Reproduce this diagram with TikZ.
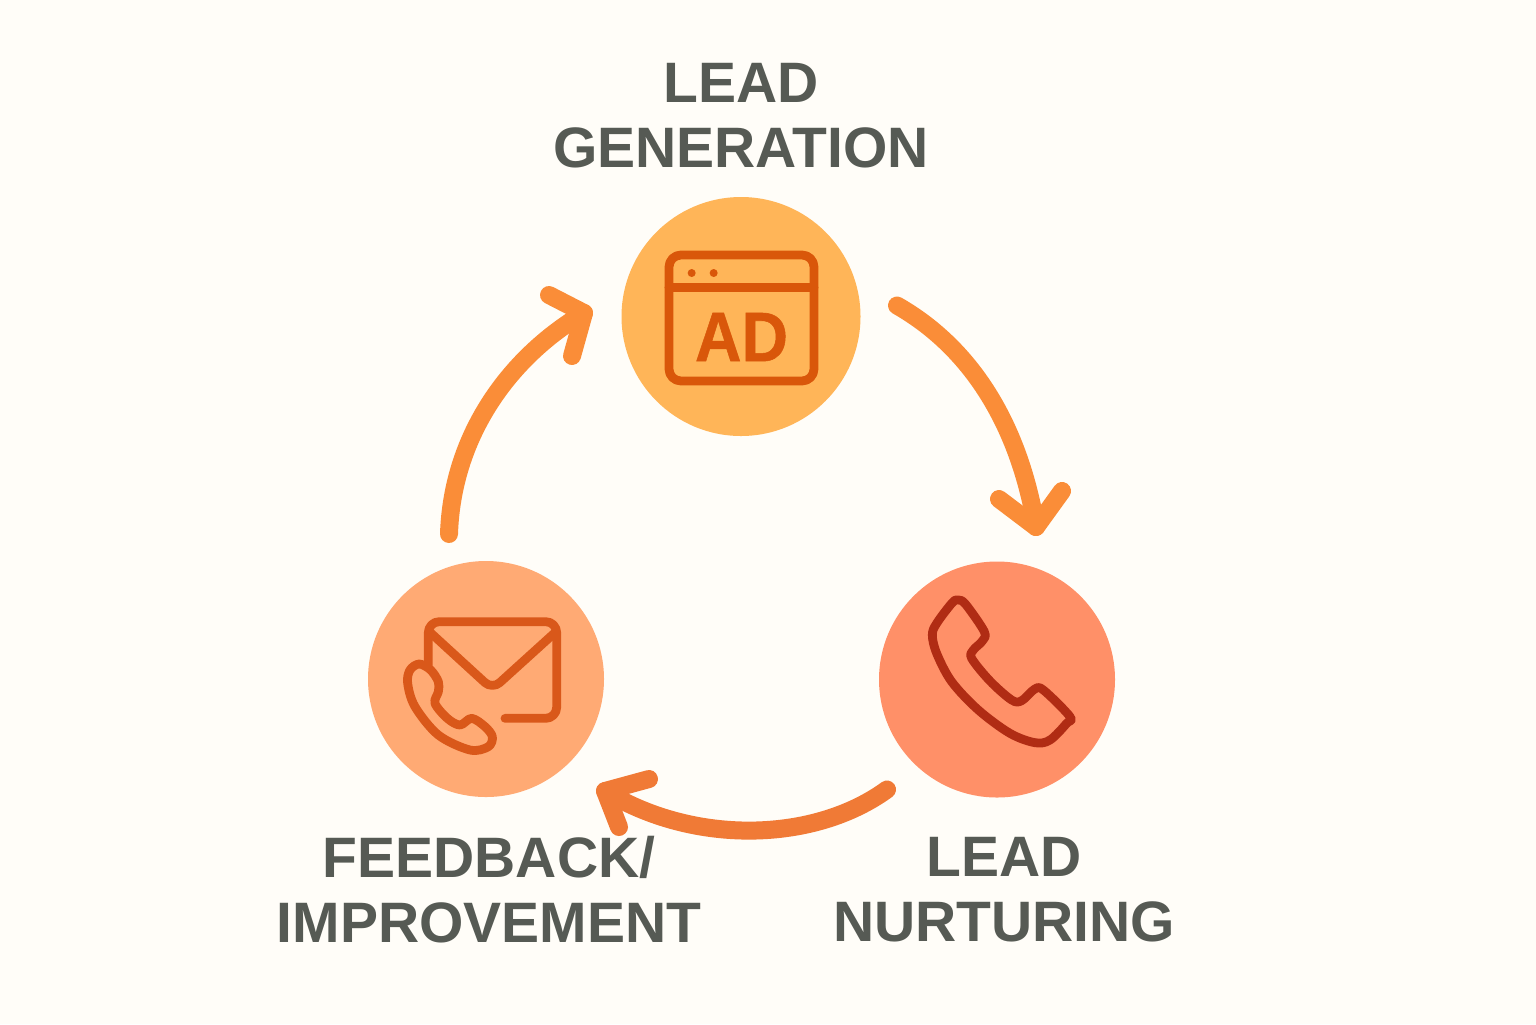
\documentclass[tikz,border=0pt]{standalone}
\usepackage{fontspec}
\setmainfont{Liberation Sans}
\usetikzlibrary{calc}
\definecolor{bgc}{HTML}{FFFDF8}
\definecolor{txt}{HTML}{565A54}
\definecolor{cgen}{HTML}{FFB558}
\definecolor{cnur}{HTML}{FF9068}
\definecolor{cfee}{HTML}{FFAA74}
\definecolor{igen}{HTML}{D9570A}
\definecolor{inur}{HTML}{B02C14}
\definecolor{ifee}{HTML}{D9581A}
\definecolor{arA}{HTML}{FA8D38}
\definecolor{arB}{HTML}{F07A36}
\tikzset{
  stage/.style={circle,inner sep=0pt,minimum size=#1,draw=none},
  lab/.style={inner sep=0pt,align=center,text=txt,font=\fontsize{28.5pt}{32.5pt}\selectfont\bfseries},
  flow/.style={line width=9pt,line cap=round,line join=round},
  iconline/.style={line width=4.4pt,line cap=round,line join=round}
}
\begin{document}
\begin{tikzpicture}[x=0.5pt,y=-0.5pt]
\fill[bgc] (0,0) rectangle (1536,1024);
\useasboundingbox (0,0) rectangle (1536,1024);
\node[stage=119.5pt,fill=cgen] (gen) at (741,316.5) {};
\node[stage=118pt,fill=cnur] (nur) at (997,679.5) {};
\node[stage=118pt,fill=cfee] (fee) at (486,679) {};
\node[lab] (lgen) at (741,116) {LEAD\\GENERATION};
\node[lab] (lnur) at (1004,890) {LEAD\\NURTURING};
\node[lab] (lfee) at (489,890) {FEEDBACK/\\IMPROVEMENT};
% connectors
\coordinate (g1) at ($(gen)+(156,-11)$);
\coordinate (g2) at ($(nur)+(39,-152.5)$);
\coordinate (ga) at ($(g2)+(-37,-28)$);
\coordinate (gb) at ($(g2)+(26,-36)$);
\coordinate (n1) at ($(nur)+(-110,110)$);
\coordinate (n2) at ($(fee)+(119,112)$);
\coordinate (na) at ($(n2)+(44,-12)$);
\coordinate (nb) at ($(n2)+(14,36)$);
\coordinate (f1) at ($(fee)+(-37,-145)$);
\coordinate (f2) at ($(gen)+(-157,-3.5)$);
\coordinate (fa) at ($(f2)+(-35,-18)$);
\coordinate (fb) at ($(f2)+(-12,43)$);
\draw[flow,arA] (g1) .. controls (975,350) and (1020,430) .. (g2);
\draw[flow,arA] (ga) -- (g2) -- (gb);
\draw[flow,arB] (n1) .. controls (815,842) and (695,846) .. (n2);
\draw[flow,arB] (na) -- (n2) -- (nb);
\draw[flow,arA] (f1) .. controls (452,440) and (505,360) .. (f2);
\draw[flow,arA] (fa) -- (f2) -- (fb);
% ad icon
\begin{scope}[shift={(610,190)},scale=1/3,iconline,draw=igen]
\draw[rounded corners=6pt] (177,195) rectangle (612,573);
\draw (177,293) -- (612,293);
\fill[igen] (245,249) circle (12);
\fill[igen] (311,249) circle (12);
\end{scope}
\node[inner sep=0pt,text=igen,font=\fontsize{35pt}{35pt}\selectfont\bfseries\addfontfeature{FakeBold=0.8},xscale=0.92] (ad) at (741.5,337) {AD};
% phone
\begin{scope}[shift={(875,555)},scale=1/3,iconline,draw=inur]
\draw[smooth cycle,tension=0.55] plot coordinates {(250,135) (272,148) (328,230) (322,258) (295,285) (290,310) (345,378) (410,435) (440,437) (478,403) (505,405) (585,485) (575,505) (525,555) (480,563) (405,535) (310,465) (230,380) (185,295) (172,240) (185,205) (232,143)};
\end{scope}
% envelope and phone
\begin{scope}[shift={(360,550)},scale=1/3,iconline,draw=ifee]
\draw[rounded corners=5.5pt] (205,345) -- (205,215) -- (590,215) -- (590,505) -- (435,505);
\draw[rounded corners=5pt] (208,245) -- (397,418) -- (588,245);
\draw[smooth cycle,tension=0.55] plot coordinates {(178,342) (150,360) (143,400) (165,470) (235,555) (330,600) (385,590) (397,560) (375,530) (335,505) (300,525) (262,505) (225,460) (235,425) (235,395) (212,360)};
\end{scope}
\end{tikzpicture}
\end{document}
